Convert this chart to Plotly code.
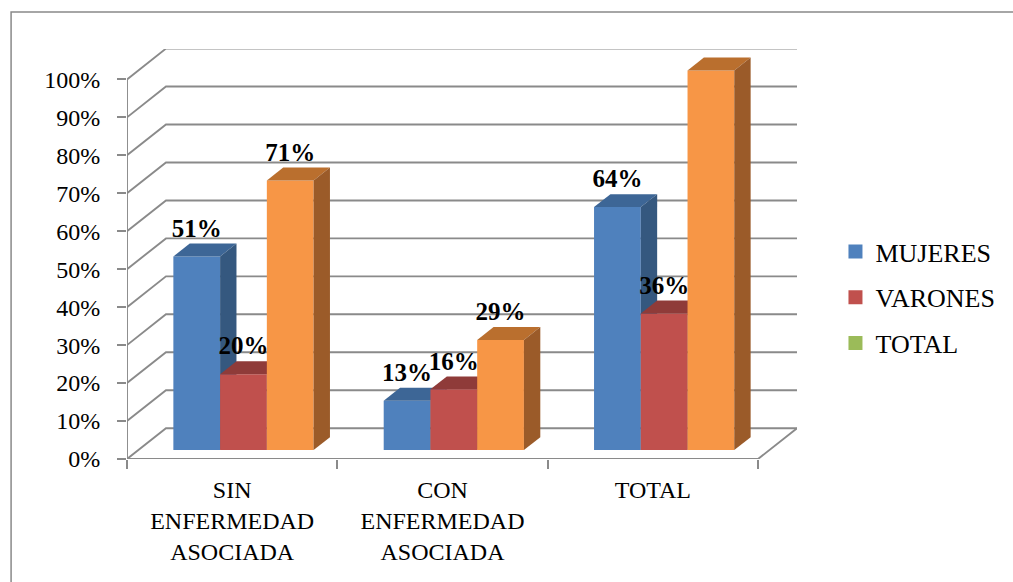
import plotly.graph_objects as go

# ---- data ----
categories = ["SIN<br>ENFERMEDAD<br>ASOCIADA", "CON<br>ENFERMEDAD<br>ASOCIADA", "TOTAL"]
series_names = ["MUJERES", "VARONES", "TOTAL"]
mujeres = [51, 13, 64]
varones = [20, 16, 36]
total = [71, 29, 100]
y_ticks = [0, 10, 20, 30, 40, 50, 60, 70, 80, 90, 100]

# ---- styling / geometry ----
W, H = 1013, 582
CAT_PX = 210.5
L_PX, T_PX, B_PX = 127, 49, 459
DX_PX = 39
R_PX = L_PX + 3 * CAT_PX + DX_PX
PX_PER_PCT = 3.796
Y_TOP = (B_PX - T_PX) / PX_PER_PCT
DX = DX_PX / CAT_PX       # depth offset in x data units
DY = 30.8 / PX_PER_PCT    # depth offset in y data units
F0, F1 = 0.29, 0.71       # bar depth position (fraction of floor depth)
BW = 1 / 4.5              # bar width (gap 150%)
X_MIN, X_MAX = -0.5, 2.5 + DX

front_cols = ["#4F81BD", "#C0504D", "#F79646"]
top_cols = ["#3D6696", "#8F3B39", "#BA6F2E"]
side_cols = ["#35587F", "#7E3230", "#9B5B29"]
legend_cols = ["#4F81BD", "#C0504D", "#9BBB59"]
GRID = "#8A8A8A"
FONT = "'Liberation Serif', 'Times New Roman', Times, serif"

def px_x(px):
    return (px - L_PX) / (R_PX - L_PX)

def px_y(py):
    return (B_PX - py) / (B_PX - T_PX)

fig = go.Figure()

# gridlines: left diagonal + back wall
gx, gy = [], []
for v in y_ticks:
    gx += [X_MIN, X_MIN + DX, 2.5 + DX, None]
    gy += [v, v + DY, v + DY, None]
# floor front edge and right diagonal, y axis line
gx += [X_MIN, 2.5, 2.5 + DX, None, X_MIN, X_MIN]
gy += [0, 0, DY, None, 0, 100]
fig.add_trace(go.Scatter(x=gx, y=gy, mode="lines", line=dict(color=GRID, width=1.9),
                         hoverinfo="skip", showlegend=False))

# bars
values = [mujeres, varones, total]
d = F1 - F0
base = F0 * DY
lab_x, lab_y, lab_t = [], [], []
for i in range(len(categories)):
    for j in range(3):
        v = values[j][i]
        x0 = i - 1.5 * BW + j * BW + F0 * DX
        x1 = x0 + BW
        b = base
        t = b + v
        ddx, ddy = d * DX, d * DY
        # front
        fig.add_trace(go.Scatter(x=[x0, x1, x1, x0, x0], y=[b, b, t, t, b], fill="toself",
                                 fillcolor=front_cols[j], mode="lines", line=dict(width=0, color=front_cols[j]),
                                 hoverinfo="skip", showlegend=False))
        # top
        fig.add_trace(go.Scatter(x=[x0, x1, x1 + ddx, x0 + ddx, x0], y=[t, t, t + ddy, t + ddy, t],
                                 fill="toself", fillcolor=top_cols[j], mode="lines",
                                 line=dict(width=0, color=top_cols[j]), hoverinfo="skip", showlegend=False))
        # side
        fig.add_trace(go.Scatter(x=[x1, x1 + ddx, x1 + ddx, x1, x1], y=[b, b + ddy, t + ddy, t, b],
                                 fill="toself", fillcolor=side_cols[j], mode="lines",
                                 line=dict(width=0, color=side_cols[j]), hoverinfo="skip", showlegend=False))
        lab_x.append(x0 + BW / 2)
        lab_y.append(t + 26 / PX_PER_PCT)
        lab_t.append(f"{v}%")

fig.add_trace(go.Scatter(x=lab_x, y=lab_y, text=lab_t, mode="text", textposition="middle center",
                         textfont=dict(family=FONT, size=25, color="black", weight="bold"),
                         cliponaxis=False, hoverinfo="skip", showlegend=False))

# legend entries
for k, name in enumerate(series_names):
    fig.add_trace(go.Scatter(x=[None], y=[None], name=name, mode="markers",
                             marker=dict(symbol="square", size=14, color=legend_cols[k]),
                             legendgroup=name))

fig.update_layout(
    width=W, height=H,
    font=dict(family=FONT, color="black"),
    margin=dict(l=L_PX, r=W - R_PX, t=T_PX, b=H - B_PX, pad=0, autoexpand=False),
    paper_bgcolor="white", plot_bgcolor="rgba(0,0,0,0)",
    showlegend=True,
    legend=dict(x=px_x(836), y=px_y(228), xanchor="left", yanchor="top",
                font=dict(family=FONT, size=26, color="black"),
                traceorder="grouped", tracegroupgap=9, bgcolor="rgba(0,0,0,0)"),
    xaxis=dict(range=[X_MIN, X_MAX], showgrid=False, zeroline=False, showline=False,
               tickvals=[0, 1, 2], ticktext=categories, ticks="",
               tickfont=dict(family=FONT, size=24, color="black"),
               ticklabelstandoff=14,
               minor=dict(tick0=-0.5, dtick=1, ticks="outside", ticklen=9,
                          tickcolor=GRID, tickwidth=1.9, showgrid=False)),
    yaxis=dict(range=[0, Y_TOP], showgrid=False, zeroline=False, showline=False,
               tickvals=y_ticks, ticktext=[f"{v}%" for v in y_ticks],
               ticks="outside", ticklen=9, tickcolor=GRID, tickwidth=1.9,
               tickfont=dict(family=FONT, size=24, color="black"),
               ticklabelstandoff=12),
    shapes=[dict(type="rect", xref="paper", yref="paper",
                 x0=px_x(11), y0=px_y(620), x1=px_x(1040), y1=px_y(12),
                 line=dict(color="#898989", width=1.5), layer="below")],
)

fig.write_html("out.html")
